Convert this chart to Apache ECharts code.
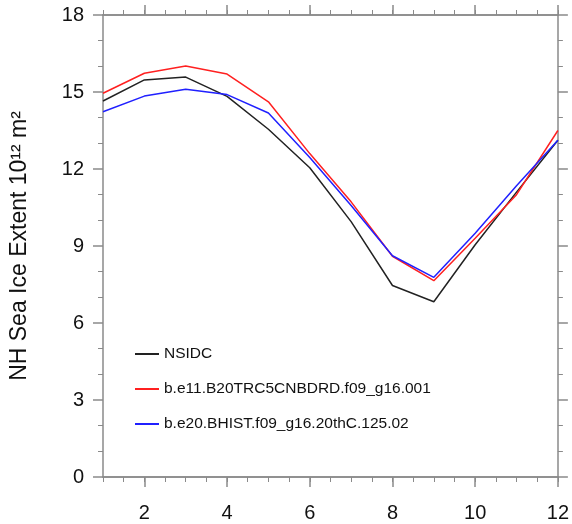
<!DOCTYPE html>
<html>
<head>
<meta charset="utf-8">
<script src="https://cdn.jsdelivr.net/npm/echarts@6/dist/echarts.min.js"></script>
<style>
  html, body { margin: 0; padding: 0; background: #fff; }
  #chart { width: 572px; height: 524px; }
</style>
</head>
<body>
<div id="chart"></div>
<script>
const months = [1, 2, 3, 4, 5, 6, 7, 8, 9, 10, 11, 12];
const nsidc = [14.65, 15.47, 15.58, 14.83, 13.55, 12.05, 9.95, 7.46, 6.83, 9.05, 11.1, 13.12];
const e11 = [14.95, 15.73, 16.01, 15.70, 14.62, 12.6, 10.72, 8.6, 7.65, 9.3, 11.0, 13.5];
const e20 = [14.23, 14.84, 15.11, 14.9, 14.18, 12.45, 10.58, 8.62, 7.78, 9.5, 11.35, 13.12];
const xMajor = [2, 4, 6, 8, 10, 12];
const xMinor = [1, 1.5, 2, 2.5, 3, 3.5, 4, 4.5, 5, 5.5, 6, 6.5, 7, 7.5, 8, 8.5, 9, 9.5, 10, 10.5, 11, 11.5, 12];

const names = ['NSIDC', 'b.e11.B20TRC5CNBDRD.f09_g16.001', 'b.e20.BHIST.f09_g16.20thC.125.02'];
const colors = ['#222222', '#ff2020', '#2020ff'];

const axisColor = '#8a8a8a';
const font = '"Liberation Sans", Arial, sans-serif';

function xAxis(pos, major, showLabel) {
  return {
    type: 'value',
    position: pos,
    min: 1,
    max: 12,
    axisLine: { show: true, onZero: false, lineStyle: { color: axisColor, width: 1.5 } },
    axisTick: {
      show: true,
      inside: false,
      length: major ? 10 : 5,
      customValues: major ? xMajor : xMinor,
      lineStyle: { color: axisColor, width: major ? 1.5 : 1 },
    },
    axisLabel: {
      show: showLabel,
      customValues: xMajor,
      margin: 26,
      fontSize: 20,
      fontFamily: font,
      color: '#111',
    },
    splitLine: { show: false },
  };
}

function yAxis(pos, showLabel) {
  return {
    type: 'value',
    position: pos,
    min: 0,
    max: 18,
    interval: 3,
    axisLine: { show: true, lineStyle: { color: axisColor, width: 1.5 } },
    axisTick: { show: true, inside: false, length: 10, lineStyle: { color: axisColor, width: 1.5 } },
    minorTick: { show: true, splitNumber: 3, length: 5, lineStyle: { color: axisColor, width: 1 } },
    axisLabel: { show: showLabel, margin: 19, fontSize: 20, fontFamily: font, color: '#111' },
    splitLine: { show: false },
    name: showLabel ? 'NH Sea Ice Extent 10¹² m²' : '',
    nameLocation: 'middle',
    nameGap: 72,
    nameTextStyle: { fontSize: 23, fontFamily: font, color: '#111' },
  };
}

const chart = echarts.init(document.getElementById('chart'));
chart.setOption({
  animation: false,
  backgroundColor: '#fff',
  grid: { left: 100, right: 11, top: 15, bottom: 47 },
  xAxis: [
    xAxis('bottom', true, true),
    xAxis('bottom', false, false),
    xAxis('top', true, false),
    xAxis('top', false, false),
  ],
  yAxis: [yAxis('left', true), yAxis('right', false)],
  legend: {
    orient: 'vertical',
    left: 129,
    top: 341,
    itemWidth: 24,
    itemHeight: 14,
    itemGap: 19,
    data: names,
    itemStyle: { opacity: 0 },
    textStyle: { fontSize: 15.5, fontFamily: font, color: '#111' },
  },
  series: [nsidc, e11, e20].map((vals, i) => ({
    name: names[i],
    type: 'line',
    data: months.map((m, j) => [m, vals[j]]),
    symbol: 'none',
    color: colors[i],
    lineStyle: { width: 1.5, color: colors[i] },
  })),
});
</script>
</body>
</html>
